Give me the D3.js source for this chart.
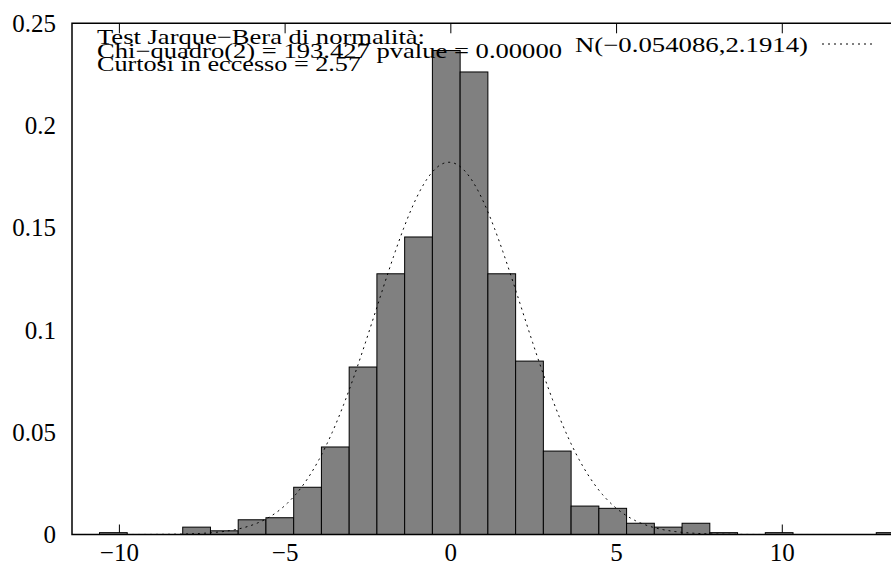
<!DOCTYPE html>
<html><head><meta charset="utf-8">
<script src="https://cdn.jsdelivr.net/npm/d3@7"></script>
<style>html,body{margin:0;padding:0;background:#fff;overflow:hidden}</style>
</head><body>
<svg id="c" width="891" height="567"></svg>
<script>
// ---- data ----
const binCenters = [-10.182,-9.345,-8.508,-7.671,-6.834,-5.997,-5.160,-4.323,-3.486,-2.649,-1.812,-0.975,-0.138,0.699,1.536,2.373,3.210,4.047,4.884,5.721,6.558,7.395,8.232,9.069,9.906,10.743,11.580,12.417,13.254];
const binWidth = 0.837;
const frequencies = [0.0009,0,0,0.0036,0.0018,0.0072,0.0082,0.0231,0.0428,0.0819,0.1275,0.1455,0.2367,0.2262,0.1275,0.0848,0.0408,0.0139,0.0128,0.0055,0.0036,0.0055,0.0009,0,0.0009,0,0,0,0.0009];
const normalMean = -0.054086;
const normalSd = 2.1914;
const xTicks = [-10,-5,0,5,10];
const yTicks = [0,0.05,0.1,0.15,0.2,0.25];
const infoLines = ["Test Jarque\u2212Bera di normalità:","Chi\u2212quadro(2) = 193.427 pvalue = 0.00000","Curtosi in eccesso = 2.57"];
const legendLabel = "N(\u22120.054086,2.1914)";

// ---- layout ----
const svg = d3.select("#c");
const L = 72, R = 891, T = 23.3, B = 534.5;
const x = d3.scaleLinear().domain([-11.43, 13.28]).range([L, R]);
const y = d3.scaleLinear().domain([0, 0.25]).range([B, T]);
const font = "'Liberation Serif','Times New Roman',serif";

svg.append("defs").append("clipPath").attr("id","pc")
  .append("rect").attr("x",L).attr("y",T).attr("width",R-L+20).attr("height",B-T);

// ticks (drawn under bars, gnuplot style inward, mirrored)
const tk = svg.append("g").attr("stroke","#000").attr("stroke-width",1);
xTicks.forEach(v=>{
  tk.append("line").attr("x1",x(v)).attr("x2",x(v)).attr("y1",B).attr("y2",B-10);
  tk.append("line").attr("x1",x(v)).attr("x2",x(v)).attr("y1",T).attr("y2",T+10);
});

// bars
svg.append("g").attr("clip-path","url(#pc)")
  .selectAll("rect").data(binCenters.map((c,i)=>({c, f:frequencies[i]})).filter(d=>d.f>0))
  .join("rect")
  .attr("x", d=>x(d.c-binWidth/2))
  .attr("width", d=>x(d.c+binWidth/2)-x(d.c-binWidth/2))
  .attr("y", d=>y(d.f))
  .attr("height", d=>y(0)-y(d.f))
  .attr("fill","#808080").attr("stroke","#000").attr("stroke-width",1);

// normal density curve
const pdf = v => Math.exp(-0.5*((v-normalMean)/normalSd)**2)/(normalSd*Math.sqrt(2*Math.PI));
const xs = d3.range(-11.43, 13.3, 0.05);
svg.append("path").attr("clip-path","url(#pc)")
  .datum(xs)
  .attr("d", d3.line().x(v=>x(v)).y(v=>y(pdf(v))))
  .attr("fill","none").attr("stroke","#000").attr("stroke-width",1)
  .attr("stroke-dasharray","2,4");

// frame
svg.append("path").attr("d",`M${R+5},${T}H${L}V${B}H${R+5}`)
  .attr("fill","none").attr("stroke","#000").attr("stroke-width",1.5);

// axis labels
svg.append("g").selectAll("text").data(xTicks).join("text")
  .attr("x", v=>x(v)).attr("y", 561).attr("text-anchor","middle")
  .attr("font-family",font).attr("font-size",25)
  .text(v => v<0 ? "\u2212"+Math.abs(v) : String(v));
svg.append("g").selectAll("text").data(yTicks).join("text")
  .attr("x", 56).attr("y", v=>y(v)+8.5).attr("text-anchor","end")
  .attr("font-family",font).attr("font-size",25)
  .text(v => String(v));

// info text
const lineW = [328, 465, 264];
const baselines = [44, 58, 71];
infoLines.forEach((s,i)=>{
  svg.append("text").attr("x",97).attr("y",baselines[i])
    .attr("font-family",font).attr("font-size",21)
    .attr("textLength",lineW[i]).attr("lengthAdjust","spacingAndGlyphs")
    .text(s);
});

// legend
svg.append("text").attr("x",808).attr("y",52).attr("text-anchor","end")
  .attr("font-family",font).attr("font-size",21)
  .attr("textLength",233).attr("lengthAdjust","spacingAndGlyphs")
  .text(legendLabel);
svg.append("line").attr("x1",822).attr("x2",874).attr("y1",44).attr("y2",44)
  .attr("stroke","#000").attr("stroke-width",1).attr("stroke-dasharray","2,4");
</script>
</body></html>
